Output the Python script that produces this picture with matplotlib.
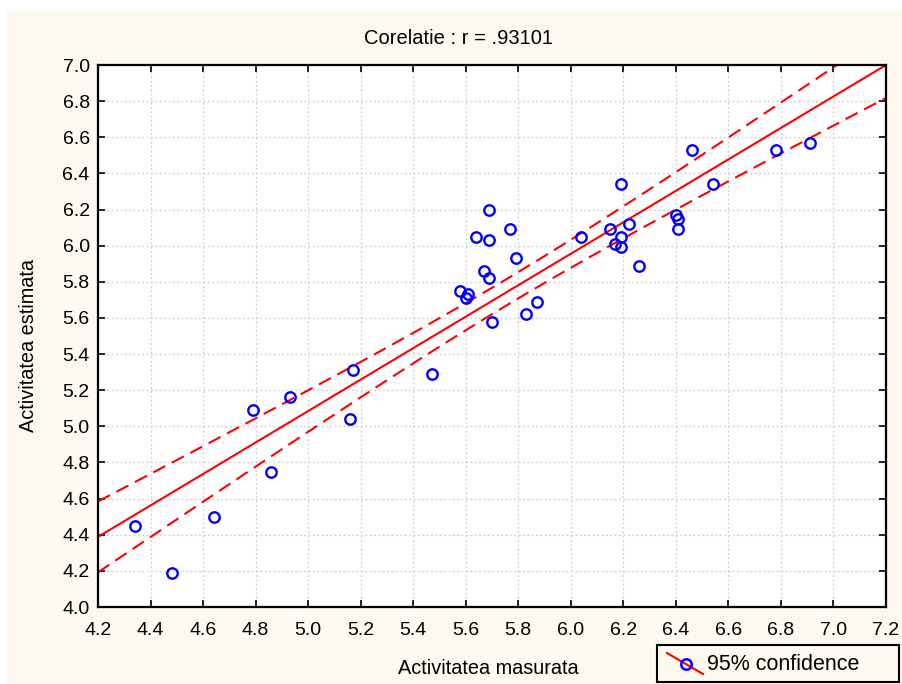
import numpy as np
import matplotlib
matplotlib.use("Agg")
import matplotlib.pyplot as plt
from matplotlib.lines import Line2D
from matplotlib.patches import Rectangle

plt.rcParams['font.family'] = ['Liberation Sans', 'DejaVu Sans']

# measured vs estimated activity
masurata = [4.34, 4.48, 4.64, 4.79, 4.86, 4.93, 5.16, 5.17, 5.47,
            5.58, 5.60, 5.61, 5.64, 5.67, 5.69, 5.69, 5.69, 5.70,
            5.77, 5.79, 5.83, 5.87, 6.04, 6.15, 6.17, 6.19, 6.19,
            6.19, 6.22, 6.26, 6.40, 6.41, 6.41, 6.46, 6.54, 6.78, 6.91]
estimata = [4.45, 4.19, 4.50, 5.09, 4.75, 5.16, 5.04, 5.31, 5.29,
            5.75, 5.71, 5.73, 6.05, 5.86, 6.20, 6.03, 5.82, 5.58,
            6.09, 5.93, 5.62, 5.69, 6.05, 6.09, 6.01, 6.34, 6.05,
            5.99, 6.12, 5.89, 6.17, 6.15, 6.09, 6.53, 6.34, 6.53, 6.57]

titlu = "Corelatie : r = .93101"
xticks = np.arange(4.2, 7.21, 0.2)
yticks = np.arange(4.0, 7.01, 0.2)

x = np.array(masurata)
y = np.array(estimata)
n = len(x)
b, a = np.polyfit(x, y, 1)
res = y - (a + b * x)
s = np.sqrt(np.sum(res ** 2) / (n - 2))
sxx = np.sum((x - x.mean()) ** 2)
t = 2.03

xx = np.linspace(4.2, 7.2, 200)
yy = a + b * xx
half = t * s * np.sqrt(1.0 / n + (xx - x.mean()) ** 2 / sxx)

W, H = 902, 684


def fx(px):
    return px / W


def fy(py):
    return 1 - py / H


fig = plt.figure(figsize=(W / 100, H / 100), dpi=100, facecolor='white')
fig.patches.append(Rectangle((fx(7), 0), 1, fy(9), transform=fig.transFigure,
                             facecolor='#fdf9ee', edgecolor='none', zorder=-10))
ax = fig.add_axes([fx(98), fy(607), fx(886 - 98), (607 - 65) / H])
ax.set_facecolor('white')

ax.plot(xx, yy, color='red', lw=1.5, zorder=2)
ax.plot(xx, yy + half, color='red', lw=1.5, ls=(0, (6.5, 3.5)), zorder=2)
ax.plot(xx, yy - half, color='red', lw=1.5, ls=(0, (6.5, 3.5)), zorder=2)
ax.plot(x, y, 'o', ms=7.5, mfc='none', mec='blue', mew=1.7, zorder=3)

ax.set_xlim(4.2, 7.2)
ax.set_ylim(4.0, 7.0)
ax.set_xticks(xticks)
ax.set_yticks(yticks)
ax.set_xticklabels([f"{v:.1f}" for v in xticks])
ax.set_yticklabels([f"{v:.1f}" for v in yticks])
ax.tick_params(direction='in', length=5, width=1.2, top=True, right=True,
               labelsize=14)
ax.tick_params(axis='x', pad=11)
ax.tick_params(axis='y', pad=6)
ax.grid(True, color='#cfcfcf', ls=(0, (1.5, 2)), lw=0.9)
for sp in ax.spines.values():
    sp.set_linewidth(1.6)

fig.text(fx(458), fy(38), titlu, fontsize=14.5, ha='center', va='center')
fig.text(fx(488), fy(668), "Activitatea masurata", fontsize=14.3,
         ha='center', va='center')
fig.text(fx(29), fy(345), "Activitatea estimata", fontsize=14.3,
         ha='center', va='center', rotation=90)

# legend box drawn by hand: diagonal line with a marker on it
fig.patches.append(Rectangle((fx(657), fy(682)), fx(899 - 657), (682 - 645) / H,
                             transform=fig.transFigure, facecolor='#fdf9ee',
                             edgecolor='black', lw=1.5))
fig.lines.append(Line2D([fx(667), fx(703)], [fy(653), fy(674)],
                        transform=fig.transFigure, color='red', lw=1.5))
fig.lines.append(Line2D([fx(686)], [fy(664)], transform=fig.transFigure,
                        marker='o', ms=7.5, mfc='none', mec='blue', mew=1.8))
fig.text(fx(707), fy(664), "95% confidence", fontsize=15.5, ha='left', va='center')

fig.savefig("out.png", dpi=100, facecolor=fig.get_facecolor())
